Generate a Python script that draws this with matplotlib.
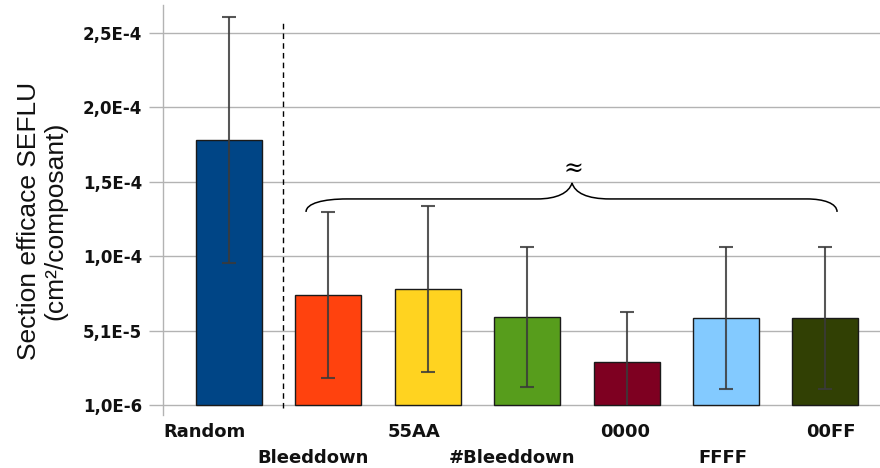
import numpy as np
import matplotlib
matplotlib.use("Agg")
import matplotlib.pyplot as plt
from matplotlib.path import Path
from matplotlib.patches import PathPatch, Rectangle
import matplotlib.transforms as mtransforms

# ---------------- data ----------------
categories = ["Random", "Bleeddown", "55AA", "#Bleeddown", "0000", "FFFF", "00FF"]
values = [1.784e-4, 7.46e-5, 7.86e-5, 5.99e-5, 2.98e-5, 5.92e-5, 5.92e-5]
errors = [8.23e-5, 5.56e-5, 5.56e-5, 4.70e-5, 3.35e-5, 4.76e-5, 4.76e-5]
colors = ["#004586", "#ff420e", "#ffd320", "#579d1c", "#7e0021", "#83caff", "#314004"]

base = 1.0e-6
tick_vals = [1.0e-6, 5.08e-5, 1.006e-4, 1.504e-4, 2.002e-4, 2.5e-4]
tick_labels = ["1,0E-6", "5,1E-5", "1,0E-4", "1,5E-4", "2,0E-4", "2,5E-4"]

# ---------------- figure ----------------
fig = plt.figure(figsize=(8.8, 4.68), dpi=100)
ax = fig.add_axes([163 / 880, 1 - 415 / 468, 1 - 163 / 880, 410 / 468])

x = np.arange(len(categories))
heights = np.array(values) - base
ax.bar(x, heights, bottom=base, width=0.665, color=colors,
       edgecolor="#1a1a1a", linewidth=1.0, zorder=3)

ax.set_xlim(-0.664, 6.549)
ax.set_ylim(-5.7e-6, 2.687e-4)

# error bars, cut off at the axis base (no lower cap when they go below)
eb = ax.errorbar(x, values, yerr=errors, fmt="none", ecolor="#3a3a3a",
                 elinewidth=1.5, capsize=5, capthick=1.5, alpha=0.85, zorder=4)
clip = Rectangle((-1, base - 2e-7), 10, 1e-3, transform=ax.transData)
for art in list(eb.lines[1]) + list(eb.lines[2]):
    art.set_clip_path(clip)

# y axis
ax.set_yticks(tick_vals)
ax.set_yticklabels(tick_labels, fontsize=12, fontweight="bold",
                   family="DejaVu Sans", color="#111111")
ax.tick_params(axis="y", length=10, width=1, color="#b3b3b3", pad=5)
ax.yaxis.grid(True, color="#b3b3b3", linewidth=1, zorder=0)
ax.set_axisbelow(True)
ax.set_xticks([])
for s in ["top", "right", "bottom"]:
    ax.spines[s].set_visible(False)
ax.spines["left"].set_color("#b3b3b3")
ax.spines["left"].set_linewidth(1)

# category labels, staggered in two rows
label_shift = [-25, -15, -14, -15, -1, -3, 5]  # pixels
for i, (name, sh) in enumerate(zip(categories, label_shift)):
    row_y = -0.0415 if i % 2 == 0 else -0.105
    trans = mtransforms.blended_transform_factory(ax.transData, ax.transAxes)
    trans = trans + mtransforms.ScaledTranslation(sh / 100, 0, fig.dpi_scale_trans)
    ax.text(x[i], row_y, name, transform=trans, ha="center", va="center",
            fontsize=13, fontweight="bold", family="DejaVu Sans",
            color="#111111", clip_on=False)

# dashed separator between Random and the others
sep = mtransforms.blended_transform_factory(ax.transData, ax.transAxes)
ax.plot([0.545, 0.545], [0.017, 1 - 10 / 410 - 0.013], transform=sep,
        color="black", linestyle=(0, (4, 3)), linewidth=1, clip_on=False, zorder=5)

# curly brace over the bleeddown bars
y0, y1, y2 = 1.302e-4, 1.389e-4, 1.496e-4
verts = [
    (0.775, y0),
    (0.775, 1.36e-4), (0.95, y1), (1.187, y1),
    (3.099, y1),
    (3.30, y1), (3.42, 1.43e-4), (3.451, y2),
    (3.48, 1.43e-4), (3.60, y1), (3.833, y1),
    (5.815, y1),
    (5.98, y1), (6.117, 1.36e-4), (6.117, y0),
]
codes = [Path.MOVETO,
         Path.CURVE4, Path.CURVE4, Path.CURVE4,
         Path.LINETO,
         Path.CURVE4, Path.CURVE4, Path.CURVE4,
         Path.CURVE4, Path.CURVE4, Path.CURVE4,
         Path.LINETO,
         Path.CURVE4, Path.CURVE4, Path.CURVE4]
ax.add_patch(PathPatch(Path(verts, codes), facecolor="none",
                       edgecolor="black", linewidth=1.1, zorder=5))
ax.text(3.46, 1.595e-4, "\u2248", ha="center", va="center",
        fontsize=17, family="DejaVu Serif", color="black")

# y label
fig.text(42 / 880, 1 - 221 / 468,
         "Section efficace SEFLU\n(cm\u00b2/composant)",
         rotation=90, ha="center", va="center", fontsize=19,
         family="Liberation Sans", color="#111111", linespacing=1.15)

fig.savefig("out.png", dpi=100)
